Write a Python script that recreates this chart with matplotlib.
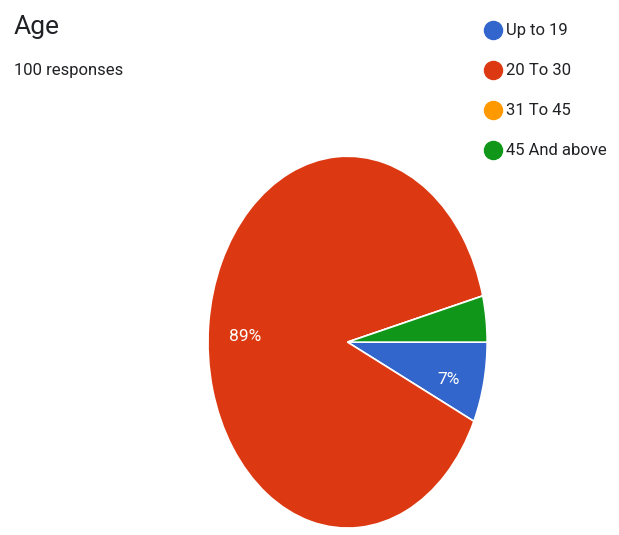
import matplotlib.pyplot as plt
from matplotlib.lines import Line2D

plt.rcParams['font.family'] = ['Roboto', 'DejaVu Sans']

labels = ['Up to 19', '20 To 30', '31 To 45', '45 And above']
values = [7, 89, 0, 4]
colors = ['#3366cc', '#dc3912', '#ff9900', '#109618']

fig = plt.figure(figsize=(6.19, 5.35), dpi=100)
ax = fig.add_axes([0.336, 0.013, 0.451, 0.695])

wedges, texts, autotexts = ax.pie(
    values, colors=colors, startangle=0, counterclock=False,
    autopct=lambda p: f'{p:.0f}%' if p >= 5 else '',
    pctdistance=0.74,
    textprops=dict(color='white', fontsize=12.5),
    wedgeprops=dict(edgecolor='white', linewidth=1.2))
for t in autotexts:
    t.set_va('top')
ax.set_aspect('auto')
ax.set_xlim(-1, 1)
ax.set_ylim(-1, 1)

fig.text(0.022, 0.937, 'Age', fontsize=19, color='#202124', va='baseline')
fig.text(0.022, 0.86, '100 responses', fontsize=12, color='#202124', va='baseline')

handles = [Line2D([], [], marker='o', linestyle='none', markersize=13,
                  markerfacecolor=c, markeredgecolor=c) for c in colors]
fig.legend(handles, labels, loc='upper left', bbox_to_anchor=(0.762, 0.978),
           frameon=False, fontsize=12, handletextpad=0.15, labelspacing=1.5,
           handlelength=1.2, borderaxespad=0.3, labelcolor='#202124')

fig.savefig('out.png', dpi=100)
